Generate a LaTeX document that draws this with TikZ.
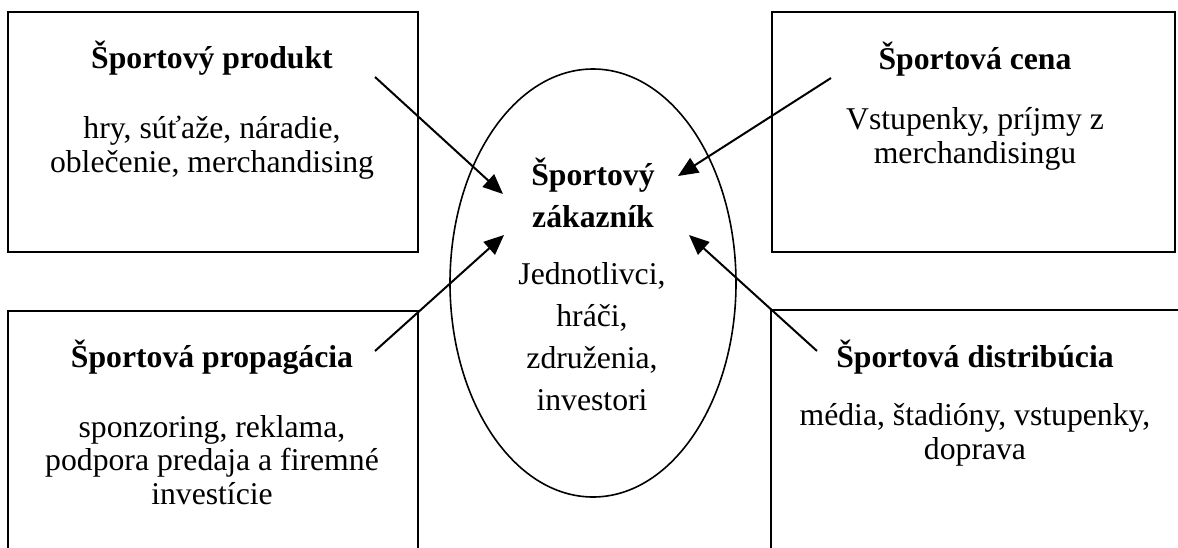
\documentclass[tikz,border=0pt]{standalone}
\usepackage{fontspec}
\setmainfont{Liberation Serif}
\usetikzlibrary{arrows.meta,shapes.geometric}

\tikzset{
  box/.style={draw,line width=1pt,minimum width=#1,minimum height=120pt,inner sep=0pt},
  heading/.style={font=\fontsize{15.85}{20.85}\selectfont\bfseries,align=center,inner sep=0pt,anchor=base},
  note/.style={font=\fontsize{15.85}{16.75}\selectfont,align=center,inner sep=0pt,anchor=base},
  pointer/.style={-{Triangle[length=10pt,width=8.5pt]},line width=1pt},
}

\begin{document}
\begin{tikzpicture}[x=0.5pt,y=-0.5pt]
  \clip (0,0) rectangle (1178,547);
  % four boxes
  \node[box=205pt] (prodbox) at (213,132) {};
  \node[box=201.5pt] (cenabox) at (973.5,132) {};
  \node[box=205pt] (propbox) at (213,431) {};
  \node[box=207pt] (distbox) at (978,430) {};
  % customer in the middle
  \node[ellipse,draw,line width=0.8pt,minimum width=143pt,minimum height=214pt,inner sep=0pt] (zak) at (593,283) {};

  % texts (base = last line)
  \node[heading] (prodT) at (212,68) {Športový produkt};
  \node[note] (prodN) at (212,172) {hry, súťaže, náradie,\\oblečenie, merchandising};

  \node[heading] (cenaT) at (975,69) {Športová cena};
  \node[note] (cenaN) at (975,163) {Vstupenky, príjmy z\\merchandisingu};

  \node[heading] (propT) at (212,367) {Športová propagácia};
  \node[note] (propN) at (212,504) {sponzoring, reklama,\\podpora predaja a firemné\\investície};

  \node[heading] (distT) at (975,367) {Športová distribúcia};
  \node[note] (distN) at (975,459) {média, štadióny, vstupenky,\\doprava};

  \node[heading] (zakT) at (593,227) {Športový\\zákazník};
  \node[note,font=\fontsize{15.85}{20.85}\selectfont] (zakN) at (592,410) {Jednotlivci,\\hráči,\\združenia,\\investori};

  % arrows
  \coordinate (prodS) at (375,77);
  \coordinate (prodE) at (503,194);
  \coordinate (cenaS) at (831,78);
  \coordinate (cenaE) at (678,176);
  \coordinate (propS) at (375,351);
  \coordinate (propE) at (504,235);
  \coordinate (distS) at (817,351);
  \coordinate (distE) at (689,235);
  \draw[pointer] (prodS) -- (prodE);
  \draw[pointer] (cenaS) -- (cenaE);
  \draw[pointer] (propS) -- (propE);
  \draw[pointer] (distS) -- (distE);
\end{tikzpicture}
\end{document}
